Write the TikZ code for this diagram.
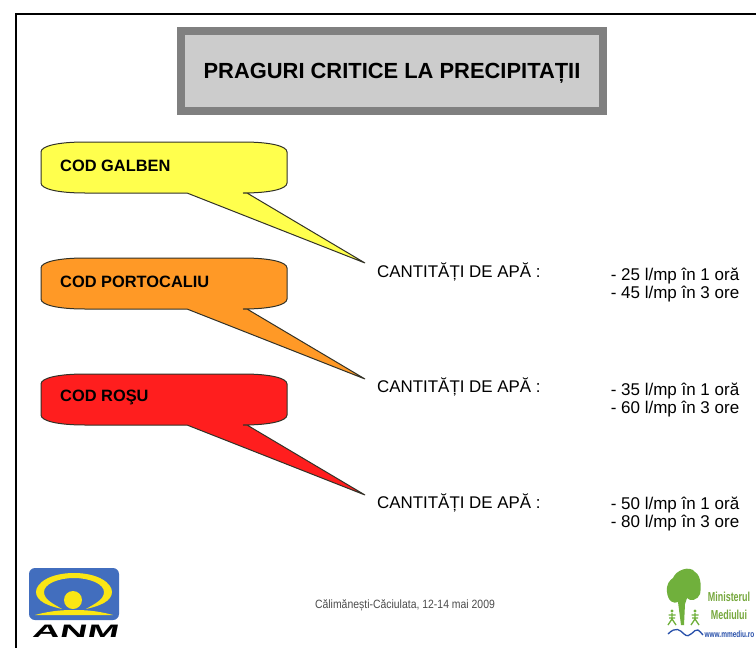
\documentclass[tikz,border=0pt]{standalone}
\usepackage{fontspec}
\setmainfont{Liberation Sans}
\newfontfamily\narrowf[FakeStretch=0.87]{Liberation Sans}
\newfontfamily\minf[FakeStretch=0.69]{Liberation Sans}
\newfontfamily\wwwf[FakeStretch=0.72]{Liberation Sans}
\newfontfamily\anmf[FakeStretch=2.1,FakeSlant=0.2]{Liberation Sans}
\definecolor{cgalben}{RGB}{255,255,77}
\definecolor{cport}{RGB}{255,153,38}
\definecolor{crosu}{RGB}{255,30,30}
\definecolor{edgec}{RGB}{50,50,40}
\definecolor{titlefill}{RGB}{204,204,204}
\definecolor{titleedge}{RGB}{128,128,128}
\definecolor{anmblue}{RGB}{66,110,190}
\definecolor{anmyel}{RGB}{250,230,20}
\definecolor{leaf}{RGB}{112,176,60}
\definecolor{mintext}{RGB}{118,168,60}
\definecolor{wave}{RGB}{40,80,170}
\newcommand{\fs}[1]{\fontsize{#1}{#1}\selectfont}
\newcommand{\callout}[1]{\path[draw=edgec,line width=1pt,fill=#1]}
\newcommand{\bodypath}[1]{
    (41,#1+10) .. controls (41,#1+4) and (58,#1) .. (85,#1)
    -- (243,#1) .. controls (270,#1) and (287,#1+4) .. (287,#1+10)
    -- (287,#1+41) .. controls (287,#1+47) and (270,#1+51) .. (243,#1+51)
    -- (247,#1+51) -- (365,#1+121) -- (187,#1+51)
    -- (85,#1+51) .. controls (58,#1+51) and (41,#1+47) .. (41,#1+41) -- cycle}
\tikzset{
  lab/.style={anchor=west,inner sep=0pt,font=\fs{16.9}},
  codlab/.style={anchor=west,inner sep=0pt,font=\bfseries\fs{16.4}},
  val/.style={anchor=center,inner sep=0pt,align=center,font=\fs{17}},
  mint/.style={inner sep=0pt,text=mintext,font=\minf\bfseries\fs{13}},
}
\begin{document}
\begin{tikzpicture}[x=1pt,y=-1pt]
\useasboundingbox (0,0) rectangle (756,648);
\fill[white] (0,0) rectangle (756,648);
\draw[line width=2pt,black] (16,648) -- (16,14) -- (756,14);
% title
\node[draw=titleedge,fill=titlefill,line width=8pt,minimum width=422pt,minimum height=80pt,inner sep=0pt] (title) at (392,71) {};
\node[inner sep=0pt,font=\bfseries\fs{21.9}] (titletext) at (392,73) {PRAGURI CRITICE LA PRECIPITAȚII};
% callouts
\callout{cgalben} \bodypath{142};
\callout{cport} \bodypath{258};
\callout{crosu} \bodypath{374};
\node[codlab] (g) at (60,165.5) {COD GALBEN};
\node[codlab] (p) at (60,281.5) {COD PORTOCALIU};
\node[codlab] (r) at (60,397.5) {COD ROŞU};
\node[lab] (c1) at (377,272) {CANTITĂȚI DE APĂ :};
\node[lab] (c2) at (377,387) {CANTITĂȚI DE APĂ :};
\node[lab] (c3) at (377,503) {CANTITĂȚI DE APĂ :};
\node[val] (v1) at (675,285) {- 25 l/mp în 1 oră\\[1pt]- 45 l/mp în 3 ore};
\node[val] (v2) at (675,400) {- 35 l/mp în 1 oră\\[1pt]- 60 l/mp în 3 ore};
\node[val] (v3) at (675,514) {- 50 l/mp în 1 oră\\[1pt]- 80 l/mp în 3 ore};
\node[inner sep=0pt,text=black!70,font=\narrowf\fs{12}] (foot) at (405,605) {Călimănești-Căciulata, 12-14 mai 2009};
% ANM logo
\fill[anmblue,rounded corners=6pt] (29,568) rectangle (119,620);
\fill[anmyel] (74,573) .. controls (98,573) and (112,583) .. (112,592) .. controls (112,601) and (100,606) .. (86,609) .. controls (94,604) and (104,600) .. (104,592) .. controls (104,584) and (90,578) .. (74,578) .. controls (58,578) and (44,584) .. (44,592) .. controls (44,600) and (54,604) .. (62,609) .. controls (48,606) and (36,601) .. (36,592) .. controls (36,583) and (50,573) .. (74,573) -- cycle;
\fill[anmyel] (73,600) circle (9);
\fill[anmyel] (35,615) .. controls (46,612) and (58,610) .. (72,610) -- (76,610) .. controls (90,610) and (102,612) .. (113,615) -- cycle;
\node[inner sep=0pt,font=\anmf\bfseries\fs{18}] (anm) at (75,631) {ANM};
% Ministry logo
\fill[leaf] (667,592) .. controls (666,584) and (670,580) .. (673,578) .. controls (676,570) and (690,565) .. (695,572) .. controls (702,576) and (701,590) .. (700,594) .. controls (698,600) and (690,602) .. (687,598) -- (685,604) -- (684,625) -- (681,625) -- (678,602) .. controls (674,604) and (668,602) .. (667,592) -- cycle;
\node[mint] (m1) at (729,597) {Ministerul};
\node[mint] (m2) at (729,615) {Mediului};
\node[inner sep=0pt,text=wave,font=\wwwf\bfseries\fs{9}] (m3) at (729.5,634) {www.mmediu.ro};
\draw[wave,line width=1.3pt] (668,634) .. controls (676,626) and (680,630) .. (684,634) .. controls (690,640) and (694,628) .. (698,630) .. controls (700,631) and (701,633) .. (703,635);
\foreach \px in {672,695}{
  \fill[leaf] (\px,611) circle (1.7);
  \draw[leaf,line width=1.3pt] (\px-3.5,615) -- (\px+3.5,615) (\px-3,618) -- (\px+3,618) (\px,613) -- (\px,619) -- (\px-4,625) (\px,619) -- (\px+4,625);
}
\end{tikzpicture}
\end{document}
